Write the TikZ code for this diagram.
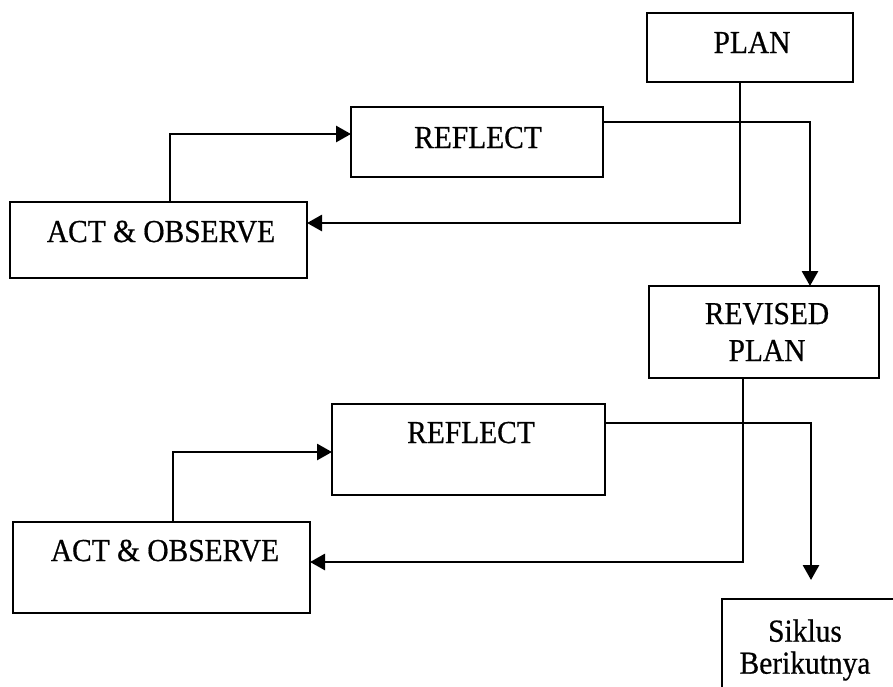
\documentclass[tikz,border=0pt]{standalone}
\usepackage{fontspec}
\setmainfont{Liberation Serif}
\newfontface\scanfont{Liberation Serif}[FakeBold=0.6,FakeStretch=0.92]
\usetikzlibrary{arrows.meta}
\begin{document}
\begin{tikzpicture}[x=1pt,y=-1pt,
  box/.style={draw,line width=2.8pt,inner sep=0pt,outer sep=0pt,rectangle},
  lbl/.style={inner sep=0pt,anchor=base,font=\scanfont\fontsize{32}{34}\selectfont},
  mlbl/.style={inner sep=0pt,align=center},
  arr/.style={line width=2.8pt,-{Triangle[length=15pt,width=16pt]}}]
\useasboundingbox (0,0) rectangle (893,686);
% boxes
\node[box,minimum width=206pt,minimum height=69pt] (plan) at (750,47.5) {};
\node[box,minimum width=252pt,minimum height=70pt] (ref1) at (477,142) {};
\node[box,minimum width=297pt,minimum height=76pt] (act1) at (158.5,240) {};
\node[box,minimum width=230pt,minimum height=92pt] (rev) at (764,332) {};
\node[box,minimum width=273pt,minimum height=91pt] (ref2) at (468.5,449.5) {};
\node[box,minimum width=297pt,minimum height=91pt] (act2) at (161.5,567.5) {};
\node[box,minimum width=173pt,minimum height=111pt] (next) at (808.5,654.5) {};
% labels
\node[lbl] (tplan) at (752,53) {PLAN};
\node[lbl] (tref1) at (478,148) {REFLECT};
\node[lbl] (tact1) at (161,242) {ACT \& OBSERVE};
\node[mlbl,font=\scanfont\fontsize{32}{37}\selectfont] (trev) at (767,332) {REVISED\\PLAN};
\node[lbl] (tref2) at (471,443) {REFLECT};
\node[lbl] (tact2) at (165,561) {ACT \& OBSERVE};
\node[mlbl,font=\scanfont\fontsize{32}{32}\selectfont] (tnext) at (805,650) {Siklus\\Berikutnya};
% connectors
\draw[arr] ([xshift=-10pt]plan.south) |- ([yshift=17pt]act1.east);
\draw[arr] ([xshift=11.5pt]act1.north) |- ([yshift=8pt]ref1.west);
\draw[arr] ([yshift=20pt]ref1.east) -| ([xshift=46pt]rev.north);
\draw[arr] ([xshift=-21pt]rev.south) |- ([yshift=5.5pt]act2.east);
\draw[arr] ([xshift=11.5pt]act2.north) |- ([yshift=-2.5pt]ref2.west);
\draw[arr,shorten >=19pt] ([yshift=26.5pt]ref2.east) -| ([xshift=2.5pt]next.north);
\end{tikzpicture}
\end{document}
